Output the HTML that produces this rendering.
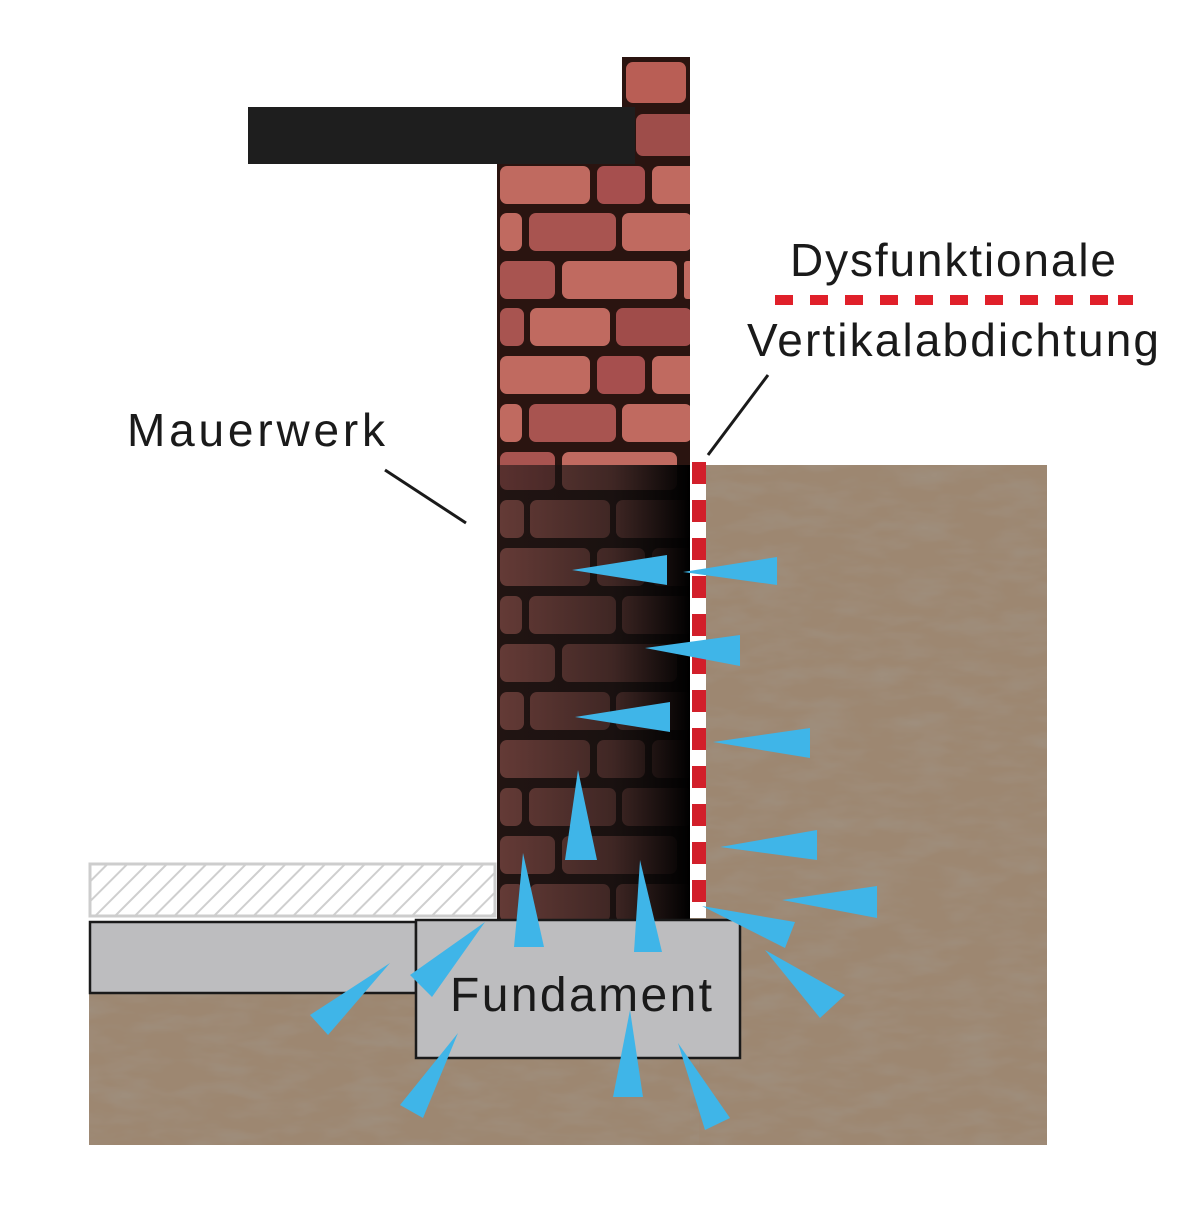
<!DOCTYPE html>
<html><head><meta charset="utf-8"><style>
html,body{margin:0;padding:0;background:#fff;}
svg{display:block}
text{font-family:"Liberation Sans","DejaVu Sans",sans-serif;fill:#1a1a1a}
</style></head><body>
<svg width="1200" height="1213" viewBox="0 0 1200 1213" xmlns="http://www.w3.org/2000/svg">
<defs>
<filter id="noise" x="0" y="0" width="100%" height="100%">
<feTurbulence type="fractalNoise" baseFrequency="0.02 0.06" numOctaves="3" seed="4"/>
<feColorMatrix values="0 0 0 0 0.35  0 0 0 0 0.29  0 0 0 0 0.23  0 0 0 1.2 -0.45"/>
</filter>
<linearGradient id="dark" x1="0" x2="1" y1="0" y2="0">
<stop offset="0" stop-color="#1a1414" stop-opacity="0.55"/>
<stop offset="0.6" stop-color="#141010" stop-opacity="0.75"/>
<stop offset="1" stop-color="#000" stop-opacity="1"/>
</linearGradient>
<pattern id="hatch" width="14" height="14" patternUnits="userSpaceOnUse" patternTransform="rotate(45)">
<rect width="14" height="14" fill="#fff"/><rect width="2" height="14" fill="#cfcfcf"/>
</pattern>
<clipPath id="wallclip"><rect x="497" y="107" width="193" height="813"/><rect x="622" y="57" width="68" height="60"/></clipPath>
</defs>
<g>
<rect x="690" y="465" width="357" height="680" fill="#9d8771"/>
<rect x="89" y="990" width="610" height="155" fill="#9d8771"/>
<rect x="690" y="465" width="357" height="680" filter="url(#noise)"/>
<rect x="89" y="990" width="610" height="155" filter="url(#noise)"/>
</g>
<g clip-path="url(#wallclip)">
<rect x="490" y="50" width="210" height="880" fill="#2a1410"/>
<rect x="626" y="62" width="60" height="41" rx="7" fill="#b95e55"/>
<rect x="636" y="114" width="60" height="42" rx="7" fill="#9e4d4a"/>
<g fill="#c06a60">
<rect x="500" y="166" width="90" height="38" rx="7"/><rect x="597" y="166" width="48" height="38" rx="7" fill="#a64f4e"/><rect x="652" y="166" width="45" height="38" rx="7"/>
<rect x="500" y="213" width="22" height="38" rx="7"/><rect x="529" y="213" width="87" height="38" rx="7" fill="#a85450"/><rect x="622" y="213" width="70" height="38" rx="7"/>
<rect x="500" y="261" width="55" height="38" rx="7" fill="#a85450"/><rect x="562" y="261" width="115" height="38" rx="7"/><rect x="684" y="261" width="10" height="38" rx="3"/>
<rect x="500" y="308" width="24" height="38" rx="7" fill="#a85450"/><rect x="530" y="308" width="80" height="38" rx="7"/><rect x="616" y="308" width="76" height="38" rx="7" fill="#a04c4a"/>
<rect x="500" y="356" width="90" height="38" rx="7"/><rect x="597" y="356" width="48" height="38" rx="7" fill="#a64f4e"/><rect x="652" y="356" width="45" height="38" rx="7"/>
<rect x="500" y="404" width="22" height="38" rx="7"/><rect x="529" y="404" width="87" height="38" rx="7" fill="#a85450"/><rect x="622" y="404" width="70" height="38" rx="7"/>
<rect x="500" y="452" width="55" height="38" rx="7" fill="#a85450"/><rect x="562" y="452" width="115" height="38" rx="7"/>
<rect x="500" y="500" width="24" height="38" rx="7"/><rect x="530" y="500" width="80" height="38" rx="7"/><rect x="616" y="500" width="76" height="38" rx="7"/>
<rect x="500" y="548" width="90" height="38" rx="7"/><rect x="597" y="548" width="48" height="38" rx="7"/><rect x="652" y="548" width="45" height="38" rx="7"/>
<rect x="500" y="596" width="22" height="38" rx="7"/><rect x="529" y="596" width="87" height="38" rx="7"/><rect x="622" y="596" width="70" height="38" rx="7"/>
<rect x="500" y="644" width="55" height="38" rx="7"/><rect x="562" y="644" width="115" height="38" rx="7"/>
<rect x="500" y="692" width="24" height="38" rx="7"/><rect x="530" y="692" width="80" height="38" rx="7"/><rect x="616" y="692" width="76" height="38" rx="7"/>
<rect x="500" y="740" width="90" height="38" rx="7"/><rect x="597" y="740" width="48" height="38" rx="7"/><rect x="652" y="740" width="45" height="38" rx="7"/>
<rect x="500" y="788" width="22" height="38" rx="7"/><rect x="529" y="788" width="87" height="38" rx="7"/><rect x="622" y="788" width="70" height="38" rx="7"/>
<rect x="500" y="836" width="55" height="38" rx="7"/><rect x="562" y="836" width="115" height="38" rx="7"/>
<rect x="500" y="884" width="24" height="38" rx="7"/><rect x="530" y="884" width="80" height="38" rx="7"/><rect x="616" y="884" width="76" height="38" rx="7"/>
</g>
<rect x="497" y="465" width="193" height="460" fill="url(#dark)"/>
</g>
<rect x="248" y="107" width="387" height="57" fill="#1e1e1e"/>
<rect x="690" y="462" width="16" height="456" fill="#fff"/>
<g fill="#d21f2a">
<rect x="692" y="462" width="14" height="22"/><rect x="692" y="500" width="14" height="22"/><rect x="692" y="538" width="14" height="22"/><rect x="692" y="576" width="14" height="22"/><rect x="692" y="614" width="14" height="22"/><rect x="692" y="652" width="14" height="22"/><rect x="692" y="690" width="14" height="22"/><rect x="692" y="728" width="14" height="22"/><rect x="692" y="766" width="14" height="22"/><rect x="692" y="804" width="14" height="22"/><rect x="692" y="842" width="14" height="22"/><rect x="692" y="880" width="14" height="22"/>
</g>
<rect x="90" y="864" width="405" height="52" fill="url(#hatch)" stroke="#cdcdcd" stroke-width="3"/>
<rect x="90" y="922" width="326" height="71" fill="#bdbdbf" stroke="#1a1a1a" stroke-width="2.5"/>
<rect x="416" y="920" width="324" height="138" fill="#bdbdbf" stroke="#1a1a1a" stroke-width="2.5"/>
<rect x="418" y="922" width="10" height="69" fill="#bdbdbf"/>
<g fill="#e0202a">
<rect x="775" y="295" width="18" height="10"/><rect x="810" y="295" width="18" height="10"/><rect x="845" y="295" width="18" height="10"/><rect x="880" y="295" width="18" height="10"/><rect x="915" y="295" width="18" height="10"/><rect x="950" y="295" width="18" height="10"/><rect x="985" y="295" width="18" height="10"/><rect x="1020" y="295" width="18" height="10"/><rect x="1055" y="295" width="18" height="10"/><rect x="1090" y="295" width="18" height="10"/><rect x="1118" y="295" width="15" height="10"/>
</g>
<text x="953" y="276" font-size="46" text-anchor="middle" textLength="326">Dysfunktionale</text>
<text x="953" y="356" font-size="46" text-anchor="middle" textLength="412">Vertikalabdichtung</text>
<text x="256" y="446" font-size="46" text-anchor="middle" textLength="258">Mauerwerk</text>
<text x="581" y="1011" font-size="48" text-anchor="middle" textLength="262">Fundament</text>
<line x1="385" y1="470" x2="466" y2="523" stroke="#1a1a1a" stroke-width="3"/>
<line x1="768" y1="375" x2="708" y2="455" stroke="#1a1a1a" stroke-width="3"/>
<g fill="#3fb5e8">
<polygon points="572,570 667,555 667,585"/>
<polygon points="683,572 777,557 777,585"/>
<polygon points="645,648 740,635 740,666"/>
<polygon points="575,717 670,702 670,732"/>
<polygon points="713,742 810,728 810,758"/>
<polygon points="720,847 817,830 817,860"/>
<polygon points="782,900 877,886 877,918"/>
<polygon points="702,906 795,922 785,948"/>
<polygon points="578,770 565,860 597,860"/>
<polygon points="523,853 514,947 544,947"/>
<polygon points="640,860 634,952 662,952"/>
<polygon points="485,922 410,975 432,997"/>
<polygon points="390,963 310,1015 328,1035"/>
<polygon points="458,1033 400,1105 423,1118"/>
<polygon points="630,1010 613,1097 643,1097"/>
<polygon points="678,1043 705,1130 730,1118"/>
<polygon points="765,950 820,1018 845,995"/>
</g>
</svg>
</body></html>
